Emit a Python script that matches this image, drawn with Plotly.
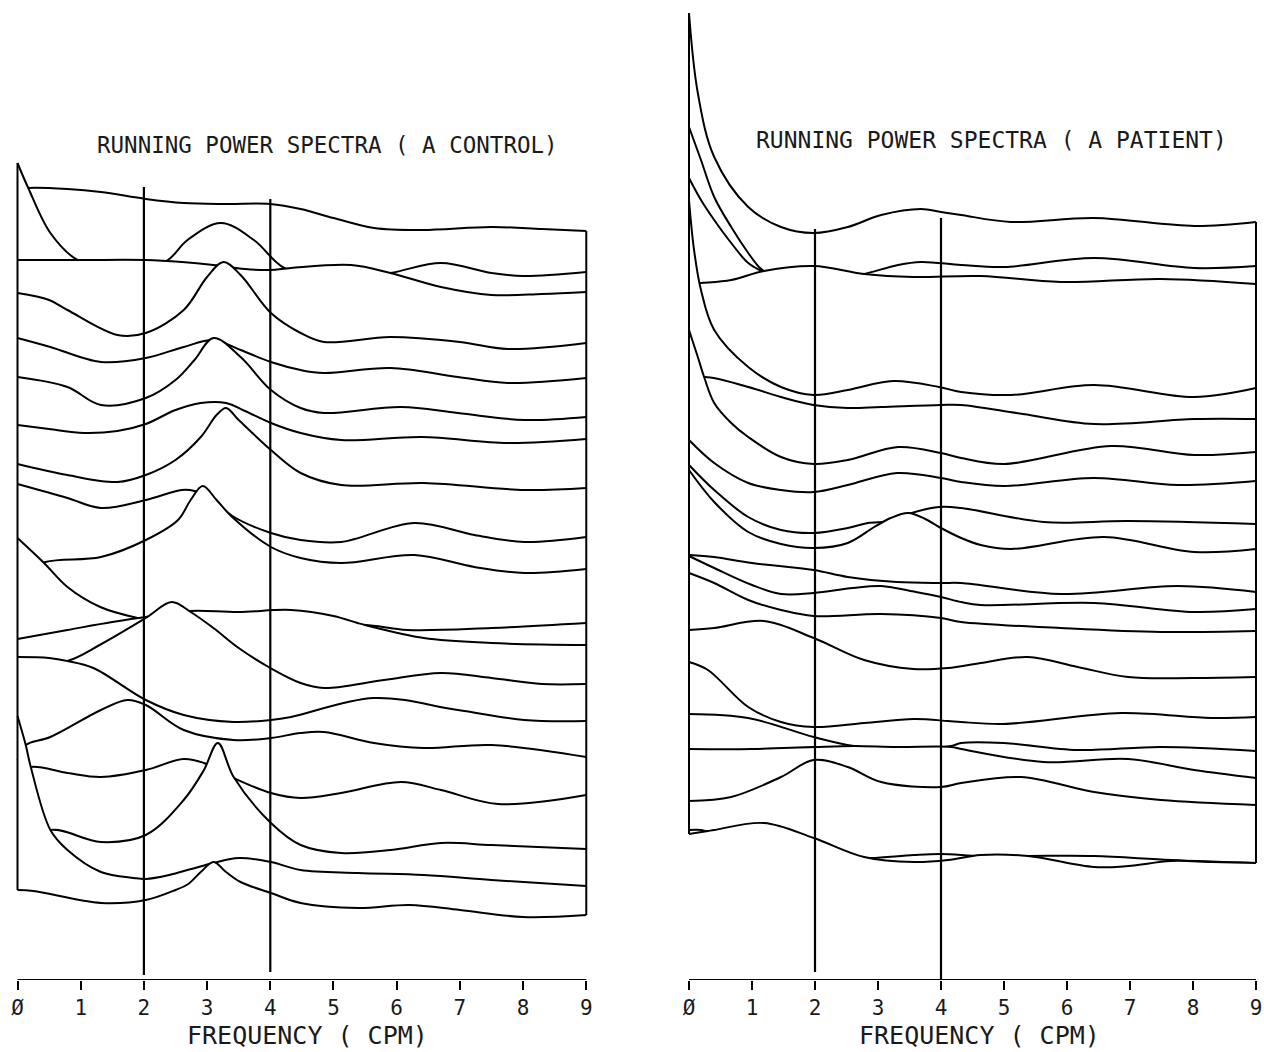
import plotly.graph_objects as go

# ---------------------------------------------------------------
# Running power spectra, stacked back (first) to front (last).
# Each spectrum is given as frequency knots (cpm) and power values
# in the common display units of the stacked plot.
# ---------------------------------------------------------------

CONTROL_FREQ = [
    [0, 0.17, 0.79, 1.32, 2.03, 2.63, 3.3, 4.0, 4.48, 5.0, 5.64, 6.4, 7.5, 8.3, 9],
    [0, 0.17, 0.52, 0.95, 1.5, 2.0, 2.38, 2.69, 3.22, 3.74, 4.22, 5.0, 5.9, 6.7, 7.5, 8.0, 9],
    [0, 1.0, 2.03, 2.6, 3.1, 3.6, 4.0, 4.33, 5.28, 5.9, 6.7, 7.5, 8.3, 9],
    [0, 0.5, 0.79, 1.58, 2.03, 2.63, 3.0, 3.26, 3.53, 4.01, 4.48, 4.85, 5.9, 7.0, 7.76, 9],
    [0, 0.52, 1.32, 2.03, 2.63, 3.1, 3.53, 4.01, 4.48, 4.85, 5.9, 6.97, 7.76, 9],
    [0, 0.79, 1.32, 2.03, 2.5, 2.8, 3.1, 3.53, 4.01, 4.48, 4.85, 6.07, 6.97, 8.02, 9],
    [0, 0.5, 1.05, 1.58, 2.03, 2.5, 2.9, 3.3, 3.6, 4.01, 4.48, 5.12, 6.4, 7.76, 9],
    [0, 0.79, 1.58, 2.03, 2.5, 2.9, 3.15, 3.3, 3.5, 4.01, 4.48, 5.12, 6.43, 8.02, 9],
    [0, 0.79, 1.32, 2.03, 2.6, 2.8, 3.1, 3.4, 4.01, 4.48, 5.12, 6.28, 7.23, 8.02, 9],
    [0, 0.44, 1.32, 2.03, 2.54, 2.74, 2.93, 3.15, 3.38, 4.01, 4.48, 5.12, 6.28, 7.23, 8.02, 9],
    [0, 0.42, 0.79, 1.31, 1.9, 2.5, 3.5, 4.5, 5.0, 5.5, 6.17, 7.5, 9],
    [0, 0.79, 1.5, 2.03, 2.5, 2.74, 3.5, 4.33, 5.0, 5.38, 5.5, 6.43, 7.5, 9],
    [0, 0.79, 1.3, 2.03, 2.44, 2.74, 3.1, 3.5, 4.0, 4.48, 4.85, 5.8, 6.7, 7.5, 8.3, 9],
    [0, 0.5, 0.79, 1.2, 2.03, 2.63, 3.42, 4.01, 4.33, 5.64, 6.97, 8.02, 9],
    [0, 0.13, 0.52, 1.32, 1.74, 2.03, 2.63, 3.42, 4.01, 4.48, 4.85, 5.64, 6.43, 7.5, 9],
    [0, 0.21, 0.79, 1.32, 2.03, 2.63, 2.95, 3.17, 3.42, 4.01, 4.48, 5.12, 6.07, 6.7, 7.6, 9],
    [0, 0.52, 1.32, 2.03, 2.63, 2.95, 3.17, 3.42, 4.01, 4.48, 5.12, 5.91, 6.7, 7.5, 9],
    [0, 0.13, 0.21, 0.52, 0.79, 1.32, 1.84, 2.03, 2.4, 2.75, 3.1, 3.5, 4.01, 4.48, 5.39, 6.43, 7.5, 9],
    [0, 0.25, 1.32, 2.03, 2.5, 2.7, 2.9, 3.1, 3.3, 3.53, 4.01, 4.48, 5.39, 6.2, 7.0, 8.0, 9],
]

CONTROL_POWER = [
    [790, 792, 791, 788, 781, 777, 776, 776, 771, 762, 752, 750, 753, 751, 749],
    [817, 792, 747, 720, 712, 712, 720, 740, 757, 740, 712, 700, 707, 717, 707, 704, 708],
    [720, 720, 720, 718, 715, 711, 710, 712, 715, 707, 693, 685, 686, 688],
    [687, 680, 670, 645, 647, 670, 703, 718, 705, 667, 647, 638, 643, 638, 631, 637],
    [642, 633, 618, 622, 633, 640, 630, 618, 610, 607, 612, 603, 597, 602],
    [603, 593, 575, 582, 600, 620, 642, 623, 590, 572, 567, 573, 567, 560, 563],
    [555, 551, 547, 549, 556, 570, 577, 577, 569, 557, 547, 540, 543, 537, 541],
    [516, 505, 498, 505, 520, 543, 565, 572, 560, 530, 507, 495, 497, 490, 492],
    [496, 482, 472, 480, 490, 489, 480, 464, 447, 440, 438, 457, 445, 438, 443],
    [405, 418, 423, 440, 460, 480, 494, 480, 464, 433, 422, 417, 425, 413, 407, 411],
    [442, 417, 393, 373, 362, 356, 354, 354, 353, 355, 350, 352, 357],
    [341, 350, 358, 363, 366, 369, 368, 370, 364, 357, 355, 342, 337, 335],
    [312, 319, 335, 362, 378, 368, 352, 332, 312, 297, 292, 300, 307, 302, 296, 296],
    [323, 322, 319, 312, 280, 265, 258, 260, 263, 282, 270, 260, 259],
    [220, 235, 243, 270, 280, 275, 250, 240, 242, 247, 248, 237, 232, 235, 223],
    [205, 213, 207, 203, 210, 221, 217, 210, 202, 187, 182, 187, 198, 190, 176, 185],
    [130, 150, 138, 145, 180, 210, 237, 203, 157, 135, 127, 130, 137, 135, 131],
    [264, 235, 213, 150, 130, 108, 102, 101, 105, 111, 117, 122, 118, 110, 107, 105, 100, 94],
    [90, 89, 77, 80, 90, 96, 108, 118, 108, 98, 87, 77, 72, 75, 70, 63, 65],
]

PATIENT_FREQ = [
    [0, 0.14, 0.4, 0.94, 1.46, 1.98, 2.52, 3.05, 3.68, 4.0, 4.32, 5.11, 6.43, 8.02, 9],
    [0, 0.19, 0.4, 0.67, 0.94, 1.11, 1.19, 1.5, 2.0, 3.0, 4.5, 6.0, 7.5, 9],
    [0, 0.19, 0.4, 0.67, 0.94, 1.19, 1.5, 2.0, 2.5, 2.78, 3.32, 3.68, 4.32, 5.0, 6.43, 8.02, 9],
    [0, 0.19, 0.67, 1.19, 1.98, 2.78, 3.56, 4.63, 5.9, 7.49, 9],
    [0, 0.08, 0.19, 0.4, 0.94, 1.46, 1.98, 2.52, 3.24, 3.97, 4.32, 5.11, 6.43, 8.02, 9],
    [0, 0.24, 0.94, 1.46, 1.98, 2.52, 3.05, 4.0, 4.32, 5.3, 6.43, 8.02, 9],
    [0, 0.14, 0.24, 0.4, 0.67, 0.94, 1.46, 1.98, 2.52, 3.32, 4.0, 4.32, 5.0, 6.7, 8.02, 9],
    [0, 0.4, 0.94, 1.46, 1.98, 2.52, 3.3, 4.0, 4.32, 5.0, 6.43, 7.76, 9],
    [0, 0.4, 0.94, 1.46, 1.98, 2.52, 2.84, 3.2, 3.48, 3.97, 4.32, 5.63, 6.97, 9],
    [0, 0.4, 0.94, 1.46, 1.98, 2.52, 2.94, 3.2, 3.48, 3.75, 3.97, 4.32, 4.63, 5.11, 6.59, 8.02, 9],
    [0, 0.4, 1.0, 1.98, 2.52, 3.3, 4.0, 4.32, 5.9, 7.76, 9],
    [0, 0.4, 1.0, 1.46, 1.98, 2.6, 3.05, 3.6, 4.0, 4.32, 4.63, 6.43, 8.02, 9],
    [0, 0.4, 0.94, 1.46, 1.98, 3.05, 4.0, 4.32, 5.9, 7.49, 9],
    [0, 0.4, 1.19, 1.98, 2.78, 3.56, 4.11, 4.63, 5.38, 6.17, 6.97, 8.0, 9],
    [0, 0.3, 0.94, 1.46, 1.98, 2.78, 3.57, 4.11, 4.32, 5.0, 6.86, 8.29, 9],
    [0, 0.94, 1.98, 2.62, 3.3, 4.16, 4.32, 5.0, 6.17, 7.49, 9],
    [0, 1.0, 1.98, 2.62, 3.3, 4.16, 4.32, 5.63, 6.97, 8.02, 9],
    [0, 0.67, 1.46, 1.98, 2.52, 3.05, 4.0, 4.32, 5.27, 6.43, 7.49, 9],
    [0, 0.2, 0.4, 1.2, 2.0, 2.6, 2.9, 3.57, 4.0, 4.63, 5.38, 6.43, 7.65, 9],
    [0, 0.3, 0.4, 1.19, 1.98, 2.78, 3.57, 4.11, 4.63, 5.38, 6.43, 6.97, 7.65, 8.3, 9],
]

PATIENT_POWER = [
    [967, 887, 823, 773, 753, 747, 753, 765, 771, 768, 765, 758, 762, 754, 758],
    [853, 820, 783, 753, 727, 713, 709, 695, 688, 685, 685, 684, 684, 683],
    [802, 780, 760, 737, 717, 708, 702, 702, 703, 706, 715, 718, 715, 713, 722, 712, 714],
    [696, 697, 700, 709, 714, 706, 703, 704, 698, 701, 696],
    [780, 730, 690, 650, 613, 593, 585, 590, 599, 593, 588, 585, 595, 583, 592],
    [598, 603, 593, 583, 575, 572, 573, 575, 575, 566, 556, 561, 561],
    [650, 623, 603, 577, 557, 543, 523, 516, 520, 533, 527, 522, 516, 534, 525, 528],
    [540, 517, 497, 490, 488, 495, 507, 502, 498, 494, 502, 495, 499],
    [515, 490, 463, 450, 447, 452, 457, 459, 466, 473, 472, 458, 459, 456],
    [510, 478, 448, 436, 432, 437, 453, 462, 467, 461, 453, 442, 435, 431, 443, 428, 431],
    [425, 423, 417, 410, 403, 398, 397, 397, 386, 394, 388],
    [424, 412, 395, 386, 387, 392, 394, 388, 383, 378, 375, 377, 368, 371],
    [407, 397, 380, 370, 364, 366, 362, 358, 352, 348, 349],
    [350, 352, 359, 342, 320, 311, 312, 317, 323, 313, 303, 302, 303],
    [318, 310, 273, 258, 253, 257, 261, 259, 258, 256, 267, 262, 263],
    [266, 262, 243, 234, 231, 234, 237, 237, 230, 233, 229],
    [231, 231, 233, 234, 233, 233, 231, 218, 221, 210, 202],
    [179, 183, 203, 220, 213, 198, 193, 197, 203, 188, 180, 175],
    [150, 150, 146, 142, 130, 122, 122, 125, 126, 124, 124, 124, 120, 117],
    [146, 149, 150, 157, 142, 123, 118, 120, 125, 124, 113, 114, 119, 118, 117],
]

# Reference band markers (cpm) with their drawn extent in power units
CONTROL_MARKERS = [(2, 5, 793), (4, 8, 781)]
PATIENT_MARKERS = [(2, 8, 751), (4, 0, 762)]

TICK_VALUES = [0, 1, 2, 3, 4, 5, 6, 7, 8, 9]
TICK_TEXT = ["Ø", "1", "2", "3", "4", "5", "6", "7", "8", "9"]

TITLES = ["RUNNING POWER SPECTRA ( A CONTROL)", "RUNNING POWER SPECTRA ( A PATIENT)"]
X_TITLE = "FREQUENCY ( CPM)"

FONT = "DejaVu Sans Mono"
INK = "black"
TEXT_INK = "#1a1a1a"
LINE_W = 2.0

fig = go.Figure()


def add_stack(freqs, powers, xa, ya):
    """Draw spectra back to front; each one is filled white so that it
    hides whatever lies behind it (hidden-line waterfall)."""
    n = len(powers)
    for k in range(n):
        fx, pw = freqs[k], powers[k]
        fig.add_trace(go.Scatter(
            x=fx, y=pw, mode="lines",
            line=dict(color=INK, width=LINE_W, shape="spline", smoothing=1.0),
            fill="tozeroy", fillcolor="white",
            xaxis=xa, yaxis=ya, hoverinfo="skip", showlegend=False,
        ))
        # side walls at both frequency ends, down to the next spectrum in front
        for idx in (0, -1):
            front = [powers[j][idx] for j in range(k + 1, n)]
            if not front:
                continue
            lo = max(front)
            if lo < pw[idx]:
                fig.add_trace(go.Scatter(
                    x=[fx[idx], fx[idx]], y=[pw[idx], lo], mode="lines",
                    line=dict(color=INK, width=LINE_W),
                    xaxis=xa, yaxis=ya, hoverinfo="skip", showlegend=False,
                ))


add_stack(CONTROL_FREQ, CONTROL_POWER, "x", "y")
add_stack(PATIENT_FREQ, PATIENT_POWER, "x2", "y2")

shapes = []
for xr, yr, markers in (("x", "y", CONTROL_MARKERS), ("x2", "y2", PATIENT_MARKERS)):
    for f, y0, y1 in markers:
        shapes.append(dict(type="line", xref=xr, yref=yr, x0=f, x1=f, y0=y0, y1=y1,
                           line=dict(color=INK, width=2.2), layer="above"))
    # frequency axis baseline
    shapes.append(dict(type="line", xref=xr, yref=yr, x0=0, x1=9, y0=0, y1=0,
                       line=dict(color=INK, width=2.2), layer="above"))

axis_common = dict(
    range=[-0.1, 9.1], tickmode="array", tickvals=TICK_VALUES, ticktext=TICK_TEXT,
    ticks="outside", ticklen=9, tickwidth=2, tickcolor=INK,
    showline=False, showgrid=False, zeroline=False,
    tickfont=dict(family=FONT, size=21, color=TEXT_INK),
    fixedrange=True,
)
yaxis_common = dict(range=[0, 980], domain=[72 / 1052, 1], visible=False, fixedrange=True)


def label(text, x, y, size):
    return dict(text=text, xref="paper", yref="paper", x=x / 1264, y=1 - y / 1052,
                xanchor="center", yanchor="middle", showarrow=False,
                font=dict(family=FONT, size=size, color=TEXT_INK))


fig.update_layout(
    width=1264, height=1052,
    margin=dict(l=0, r=0, t=0, b=0),
    paper_bgcolor="white", plot_bgcolor="white",
    xaxis=dict(domain=[0.00885, 0.46883], anchor="y", **axis_common),
    yaxis=dict(anchor="x", **yaxis_common),
    xaxis2=dict(domain=[0.54011, 0.99865], anchor="y2", **axis_common),
    yaxis2=dict(anchor="x2", **yaxis_common),
    shapes=shapes,
    annotations=[
        label(TITLES[0], 327, 145, 22.5),
        label(TITLES[1], 991, 140, 23),
        label(X_TITLE, 307, 1035, 25),
        label(X_TITLE, 979, 1035, 25),
    ],
)

fig.write_html("out.html")
